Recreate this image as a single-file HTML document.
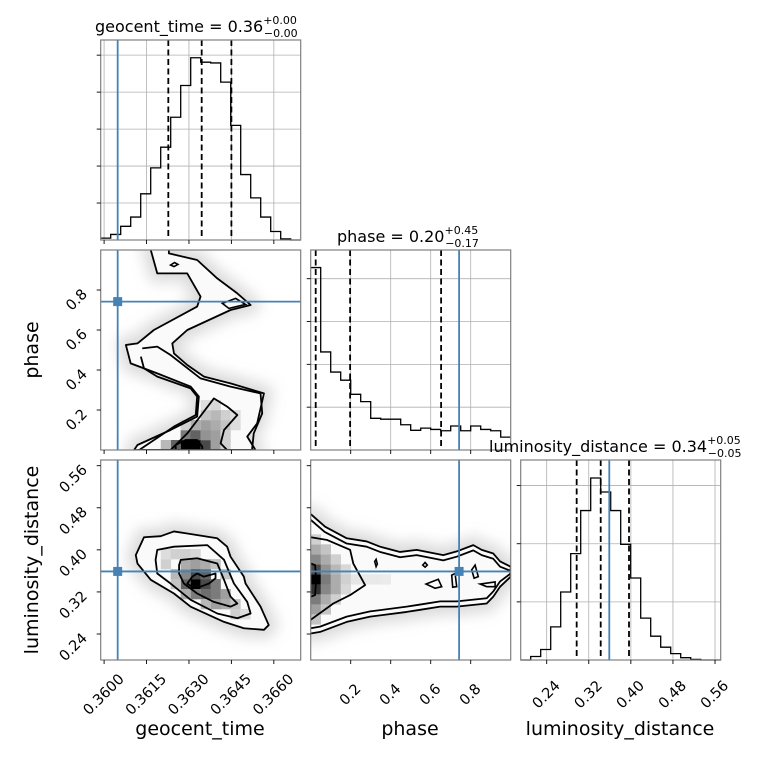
<!DOCTYPE html>
<html><head><meta charset="utf-8"><style>
html,body{margin:0;padding:0;background:#fff;}
body{position:relative;width:760px;height:760px;overflow:hidden}
svg{display:block;font-family:"DejaVu Sans","Liberation Sans",sans-serif;}
</style></head><body>
<svg id="chart" width="760" height="760" viewBox="0 0 760 760">
<defs>
<filter id="blur" x="-20%" y="-20%" width="140%" height="140%"><feGaussianBlur stdDeviation="6"/></filter>
<clipPath id="c-ml"><rect x="100.7" y="250" width="200" height="200"/></clipPath>
<clipPath id="c-bl"><rect x="100.7" y="460" width="200" height="200"/></clipPath>
<clipPath id="c-bm"><rect x="310.7" y="460" width="200" height="200"/></clipPath>
</defs>
<g id="root"></g>
</svg>
<script>
// ---- data ----
const geoBins = [5,15,37,62,125,195,251,332,418,493,481,479,427,310,177,114,62,23,3,0];
const phaseBins = [426,229,182,163,130,113,74,72,72,59,46,51,48,45,56,45,56,48,45,30];
const lumBins = [0,6,18,57,117,183,257,313,289,257,199,141,72,41,22,11,4,1,0,0];
const geoQuant = [0.36227,0.36345,0.36450];
const phaseQuant = [0.025,0.197,0.652];
const lumQuant = [0.2970,0.3427,0.3965];
const truthGeo = 0.36048, truthPhase = 0.742, truthLum = 0.359;
const geoTicks = [0.3600,0.3615,0.3630,0.3645,0.3660];
const geoTickLabels = ["0.3600","0.3615","0.3630","0.3645","0.3660"];
const phaseTicks = [0.2,0.4,0.6,0.8];
const phaseTickLabels = ["0.2","0.4","0.6","0.8"];
const lumTicks = [0.24,0.32,0.40,0.48,0.56];
const lumTickLabels = ["0.24","0.32","0.40","0.48","0.56"];
const geoHistTicks = [100,200,300,400,500];
const phaseHistTicks = [100,200,300,400];
const lumHistTicks = [100,200,300];

const mlC1 = [[0.36165,1.0],[0.36188,0.883],[0.36294,0.883],[0.36341,0.767],[0.36329,0.717],[0.36176,0.60],[0.36118,0.533],[0.36077,0.525],[0.36094,0.433],[0.36188,0.383],[0.36306,0.317],[0.36335,0.267],[0.36329,0.167],[0.36235,0.10],[0.36118,0.025],[0.36106,0.0],[0.36535,0.0],[0.36506,0.067],[0.36541,0.133],[0.36565,0.283],[0.36447,0.333],[0.36353,0.367],[0.36294,0.425],[0.36247,0.483],[0.36241,0.533],[0.36294,0.60],[0.36447,0.70],[0.36518,0.725],[0.36471,0.783],[0.36400,0.858],[0.36329,0.95],[0.36229,0.983],[0.36229,1.0]];
const mlC2 = [[0.36135,0.508],[0.36188,0.517],[0.36235,0.475],[0.36341,0.358],[0.36447,0.317],[0.36553,0.283],[0.36559,0.183],[0.36529,0.083],[0.36523,0.0],[0.36124,0.0],[0.36247,0.117],[0.36324,0.175],[0.36329,0.267],[0.36306,0.308],[0.36188,0.367],[0.36141,0.408],[0.36130,0.467]];
const mlC3 = [[0.36235,0],[0.36294,0.083],[0.36388,0.258],[0.36435,0.217],[0.36471,0.175],[0.36424,0.10],[0.36412,0.033],[0.36435,0]];
const mlC4 = [[0.36253,0],[0.36253,0.025],[0.36288,0.05],[0.36329,0.05],[0.36347,0.017],[0.36347,0]];
const mlLoops = [
 [[0.36235,0.925],[0.36249,0.937],[0.36261,0.928],[0.36247,0.917]],
 [[0.36418,0.733],[0.36465,0.758],[0.36500,0.728],[0.36441,0.708]]];
const mlCells = [[0.36288,0.025,1.0],[0.36323,0.025,1.0],[0.36253,0.025,0.6],[0.36359,0.025,0.7],[0.36288,0.075,0.5],[0.36323,0.075,0.6],[0.36359,0.075,0.4],[0.36394,0.025,0.35],[0.36394,0.075,0.35],[0.36359,0.125,0.35],[0.36394,0.125,0.3],[0.36429,0.125,0.2],[0.36323,0.125,0.3],[0.36218,0.025,0.25],[0.36429,0.175,0.15],[0.36394,0.175,0.25],[0.36359,0.175,0.2],[0.36429,0.075,0.15],[0.36429,0.025,0.15],[0.36288,0.125,0.15],[0.36359,0.225,0.1],[0.36394,0.225,0.12],[0.36464,0.125,0.1],[0.36464,0.175,0.1]];

const blC1 = [[0.36112,0.390],[0.36141,0.424],[0.36200,0.426],[0.36247,0.435],[0.36294,0.431],[0.36400,0.422],[0.36435,0.406],[0.36447,0.387],[0.36494,0.349],[0.36500,0.336],[0.36553,0.292],[0.36582,0.257],[0.36565,0.248],[0.36494,0.251],[0.36424,0.263],[0.36306,0.292],[0.36247,0.317],[0.36165,0.343],[0.36118,0.374]];
const blC2 = [[0.36182,0.381],[0.36188,0.400],[0.36247,0.406],[0.36365,0.409],[0.36424,0.381],[0.36459,0.336],[0.36506,0.301],[0.36518,0.279],[0.36471,0.270],[0.36400,0.279],[0.36306,0.305],[0.36235,0.336],[0.36188,0.355]];
const blC3 = [[0.36265,0.371],[0.36271,0.381],[0.36329,0.384],[0.36400,0.374],[0.36424,0.343],[0.36447,0.311],[0.36471,0.298],[0.36447,0.292],[0.36388,0.301],[0.36329,0.317],[0.36282,0.336],[0.36265,0.355]];
const blC4 = [[0.36294,0.336],[0.36312,0.349],[0.36329,0.355],[0.36353,0.349],[0.36394,0.355],[0.36394,0.346],[0.36371,0.336],[0.36341,0.330],[0.36318,0.327]];
const blCells = [[0.36323,0.335,1.0],[0.36288,0.335,0.6],[0.36359,0.335,0.7],[0.36323,0.354,0.7],[0.36359,0.354,0.6],[0.36394,0.335,0.5],[0.36394,0.316,0.5],[0.36359,0.316,0.55],[0.36323,0.316,0.5],[0.36429,0.316,0.35],[0.36429,0.297,0.3],[0.36394,0.297,0.35],[0.36288,0.354,0.45],[0.36288,0.373,0.3],[0.36323,0.373,0.35],[0.36359,0.373,0.3],[0.36253,0.354,0.25],[0.36253,0.335,0.2],[0.36288,0.316,0.3],[0.36464,0.297,0.2],[0.36464,0.278,0.15],[0.36218,0.373,0.15],[0.36218,0.392,0.1],[0.36253,0.392,0.15],[0.36288,0.392,0.15],[0.36394,0.373,0.2],[0.36429,0.354,0.2],[0.36359,0.297,0.25],[0.36323,0.392,0.12],[0.36499,0.278,0.1]];

const bmC1 = [[0.0,0.468],[0.072,0.444],[0.180,0.422],[0.280,0.416],[0.347,0.406],[0.447,0.396],[0.530,0.400],[0.663,0.390],[0.730,0.397],[0.813,0.409],[0.855,0.400],[0.913,0.393],[0.947,0.378],[1.0,0.368],[1.0,0.349],[0.947,0.330],[0.913,0.311],[0.880,0.298],[0.730,0.292],[0.647,0.292],[0.547,0.286],[0.480,0.282],[0.297,0.273],[0.180,0.263],[0.047,0.244],[0.0,0.241]];
const bmC2 = [[0.0,0.457],[0.07,0.434],[0.18,0.412],[0.28,0.406],[0.347,0.396],[0.447,0.386],[0.53,0.390],[0.663,0.380],[0.73,0.387],[0.813,0.399],[0.855,0.390],[0.913,0.383],[0.947,0.368],[1.0,0.360],[1.0,0.355],[0.947,0.340],[0.913,0.321],[0.880,0.308],[0.730,0.302],[0.647,0.302],[0.547,0.296],[0.48,0.292],[0.297,0.283],[0.18,0.273],[0.047,0.254],[0.0,0.251]];
const bmC3 = [[0,0.424],[0.080,0.419],[0.197,0.400],[0.213,0.374],[0.272,0.333],[0.197,0.314],[0.113,0.298],[0,0.267]];
const bmC4 = [[0,0.374],[0.022,0.371],[0.027,0.343],[0.022,0.314],[0,0.311]];
const bmLoops = [
 [[0.320,0.378],[0.327,0.382],[0.333,0.373],[0.327,0.368]],
 [[0.560,0.371],[0.572,0.376],[0.583,0.371],[0.572,0.367]],
 [[0.577,0.335],[0.638,0.344],[0.655,0.330],[0.622,0.327]],
 [[0.705,0.352],[0.722,0.355],[0.730,0.330],[0.710,0.329]],
 [[0.805,0.362],[0.822,0.371],[0.838,0.349],[0.817,0.346]],
 [[0.847,0.335],[0.922,0.339],[0.922,0.330],[0.880,0.330]]];
const bmCells = [[0.025,0.344,1.0],[0.025,0.325,0.8],[0.025,0.363,0.7],[0.075,0.344,0.5],[0.075,0.325,0.45],[0.075,0.363,0.4],[0.025,0.306,0.5],[0.025,0.382,0.45],[0.125,0.344,0.3],[0.125,0.325,0.3],[0.125,0.363,0.25],[0.075,0.306,0.3],[0.075,0.382,0.3],[0.025,0.287,0.35],[0.025,0.401,0.3],[0.175,0.344,0.15],[0.175,0.325,0.12],[0.175,0.363,0.12],[0.125,0.306,0.15],[0.125,0.382,0.15],[0.075,0.287,0.2],[0.075,0.401,0.2],[0.025,0.268,0.2],[0.025,0.420,0.15],[0.225,0.344,0.06],[0.275,0.344,0.05],[0.325,0.344,0.05],[0.375,0.344,0.04]];

// ---- scales ----
const geoMin=0.35988, geoMax=0.36695, phMin=0, phMax=1, lumMin=0.1906, lumMax=0.5708;
const colX=[100.7,310.7,520.7], rowY=[40,250,460], S=200;
function sx(col,min,max){return v=>colX[col]+(v-min)/(max-min)*S;}
function sy(row,min,max){return v=>rowY[row]+S-(v-min)/(max-min)*S;}
const gx=sx(0,geoMin,geoMax), px=sx(1,phMin,phMax), lx=sx(2,lumMin,lumMax);
const py1=sy(1,phMin,phMax), ly2=sy(2,lumMin,lumMax);

const NS="http://www.w3.org/2000/svg";
const root=document.getElementById('root');
function mk(tag,attrs,parent){const e=document.createElementNS(NS,tag);for(const k in attrs)e.setAttribute(k,attrs[k]);(parent||root).appendChild(e);return e;}
const BLUE="#4682b4";

function tickMarksX(col,row,ticks,fx,g){
  ticks.forEach(t=>{const l=mk('line',{x1:fx(t),x2:fx(t),y1:rowY[row]+S,y2:rowY[row]+S+4,stroke:'#000','stroke-width':0.9},g);
  
  });
}
function tickMarksY(col,row,ticks,fy,g){
  ticks.forEach(t=>{const l=mk('line',{x1:colX[col]-4,x2:colX[col],y1:fy(t),y2:fy(t),stroke:'#000','stroke-width':0.9},g);
  
  });
}
function frame(col,row,g){
  const r=mk('rect',{x:colX[col],y:rowY[row],width:S,height:S,fill:'none',stroke:'#808080','stroke-width':1.2},g);
  
  
}

function hist(col,row,bins,ymax,xmin,xmax,fx,xticks,yticks,quant,truth,name){
  const g=mk('g',{});
  
  
  const fy=sy(row,0,ymax);
  xticks.forEach(t=>{const l=mk('line',{x1:fx(t),x2:fx(t),y1:rowY[row],y2:rowY[row]+S,stroke:'#b0b0b0','stroke-width':0.8},g);
    
    });
  yticks.forEach(t=>{const l=mk('line',{x1:colX[col],x2:colX[col]+S,y1:fy(t),y2:fy(t),stroke:'#b0b0b0','stroke-width':0.8},g);
    
    });
  const w=(xmax-xmin)/bins.length;
  let pts=[];
  bins.forEach((v,i)=>{const a=fx(xmin+i*w),b=fx(xmin+(i+1)*w);pts.push([a,fy(v)],[b,fy(v)]);});
  const p=mk('polyline',{points:pts.map(q=>q.join(',')).join(' '),fill:'none',stroke:'#000','stroke-width':1.3},g);
  
  
  quant.forEach(q=>{const l=mk('line',{x1:fx(q),x2:fx(q),y1:rowY[row],y2:rowY[row]+S,stroke:'#000','stroke-width':1.8,'stroke-dasharray':'6,3.5'},g);
    
    });
  const tl=mk('line',{x1:fx(truth),x2:fx(truth),y1:rowY[row],y2:rowY[row]+S,stroke:BLUE,'stroke-width':1.8},g);
  
  
  frame(col,row,g);
  tickMarksX(col,row,xticks,fx,g);
  tickMarksY(col,row,yticks,fy,g);
}

function poly(pts,fx,fy,attrs,g,closed,name){
  const e=mk(closed?'polygon':'polyline',Object.assign({points:pts.map(p=>fx(p[0])+','+fy(p[1])).join(' ')},attrs),g);
  
  
  return e;
}

function panel2d(col,row,fx,fy,cw,ch,cells,contours,loops,openC,tx,ty,clip,name,xticks,yticks){
  const g=mk('g',{'clip-path':'url(#'+clip+')'});
  
  
  const c1=contours[0];
  poly(c1,fx,fy,{fill:'#a8a8a8','fill-opacity':0.3,stroke:'#a8a8a8','stroke-opacity':0.3,'stroke-width':22,'stroke-linejoin':'round',filter:'url(#blur)'},g,true,'scatter-cloud');
  poly(c1,fx,fy,{fill:'#fafafa',stroke:'none'},g,true,'density-fill');
  cells.forEach(c=>{
    const x0=fx(c[0]-cw/2),x1=fx(c[0]+cw/2),y0=fy(c[1]+ch/2),y1=fy(c[1]-ch/2);
    const v=Math.round(245*(1-c[2]));
    const r=mk('rect',{x:Math.min(x0,x1),y:Math.min(y0,y1),width:Math.abs(x1-x0)+0.3,height:Math.abs(y1-y0)+0.3,fill:`rgb(${v},${v},${v})`},g);
    
    
  });
  contours.forEach((c,i)=>poly(c,fx,fy,{fill:'none',stroke:'#000','stroke-width':1.8,'stroke-linejoin':'round'},g,!openC[i],'contour-level-'+(i+1)));
  loops.forEach(c=>poly(c,fx,fy,{fill:'none',stroke:'#000','stroke-width':1.6},g,true,'contour-island'));
  const g2=mk('g',{});
  const v=mk('line',{x1:fx(tx),x2:fx(tx),y1:rowY[row],y2:rowY[row]+S,stroke:BLUE,'stroke-width':1.8},g2);
  
  
  const h=mk('line',{x1:colX[col],x2:colX[col]+S,y1:fy(ty),y2:fy(ty),stroke:BLUE,'stroke-width':1.8},g2);
  
  
  const m=mk('rect',{x:fx(tx)-4.5,y:fy(ty)-4.5,width:9,height:9,fill:BLUE},g2);
  
  
  frame(col,row,g2);
  tickMarksX(col,row,xticks,fx,g2);
  tickMarksY(col,row,yticks,fy,g2);
}

hist(0,0,geoBins,541,geoMin,geoMax,gx,geoTicks,geoHistTicks,geoQuant,truthGeo,'geocent-time-histogram');
hist(1,1,phaseBins,467,phMin,phMax,px,phaseTicks,phaseHistTicks,phaseQuant,truthPhase,'phase-histogram');
hist(2,2,lumBins,344,lumMin,lumMax,lx,lumTicks,lumHistTicks,lumQuant,truthLum,'luminosity-distance-histogram');

panel2d(0,1,gx,py1,0.000353,0.05,mlCells,[mlC1,mlC2,mlC3,mlC4],mlLoops,[true,true,true,true],truthGeo,truthPhase,'c-ml','geocent-vs-phase-panel',geoTicks,phaseTicks);
panel2d(0,2,gx,ly2,0.000353,0.019,blCells,[blC1,blC2,blC3,blC4],[],[false,false,false,false],truthGeo,truthLum,'c-bl','geocent-vs-luminosity-panel',geoTicks,lumTicks);
panel2d(1,2,px,ly2,0.05,0.019,bmCells,[bmC1,bmC2,bmC3,bmC4],bmLoops,[true,true,true,true],truthPhase,truthLum,'c-bm','phase-vs-luminosity-panel',phaseTicks,lumTicks);

function xLabels(ticks,labels,fx,name){
  ticks.forEach((t,i)=>{const x=fx(t),y=695;
    const e=mk('text',{x:x,y:y,'text-anchor':'middle','dominant-baseline':'central','font-size':14.5,transform:`rotate(-45 ${x} ${y})`});
    e.textContent=labels[i];
    
    });
}
function yLabels(ticks,labels,fy,name){
  ticks.forEach((t,i)=>{const x=88,y=fy(t)+5;
    const e=mk('text',{x:x,y:y,'text-anchor':'end','font-size':14.5,transform:`rotate(-45 ${x} ${y})`});
    e.textContent=labels[i];
    
    });
}
xLabels(geoTicks,geoTickLabels,gx,'geocent-tick-label');
xLabels(phaseTicks,phaseTickLabels,px,'phase-tick-label');
xLabels(lumTicks,lumTickLabels,lx,'luminosity-tick-label');
yLabels(phaseTicks,phaseTickLabels,py1,'phase-y-tick-label');
yLabels(lumTicks,lumTickLabels,ly2,'luminosity-y-tick-label');
</script>
<svg style="position:absolute;left:0;top:0" width="760" height="760">
<g font-family="DejaVu Sans, Liberation Sans, sans-serif" fill="#000">
<text x="95" y="32" font-size="16">geocent_time = 0.36<tspan font-size="11" dy="-8">+0.00</tspan><tspan font-size="11" dx="-33" dy="13">−0.00</tspan></text>
<text x="337" y="242" font-size="16">phase = 0.20<tspan font-size="11" dy="-8">+0.45</tspan><tspan font-size="11" dx="-33" dy="13">−0.17</tspan></text>
<text x="489" y="452" font-size="16">luminosity_distance = 0.34<tspan font-size="11" dy="-8">+0.05</tspan><tspan font-size="11" dx="-33" dy="13">−0.05</tspan></text>
<text x="200" y="735" font-size="19" text-anchor="middle">geocent_time</text>
<text x="410" y="735" font-size="19" text-anchor="middle">phase</text>
<text x="620" y="735" font-size="19" text-anchor="middle">luminosity_distance</text>
<text x="38" y="350" font-size="19" text-anchor="middle" transform="rotate(-90 38 350)">phase</text>
<text x="38" y="560" font-size="19" text-anchor="middle" transform="rotate(-90 38 560)">luminosity_distance</text>
</g>
</svg>
</body></html>
